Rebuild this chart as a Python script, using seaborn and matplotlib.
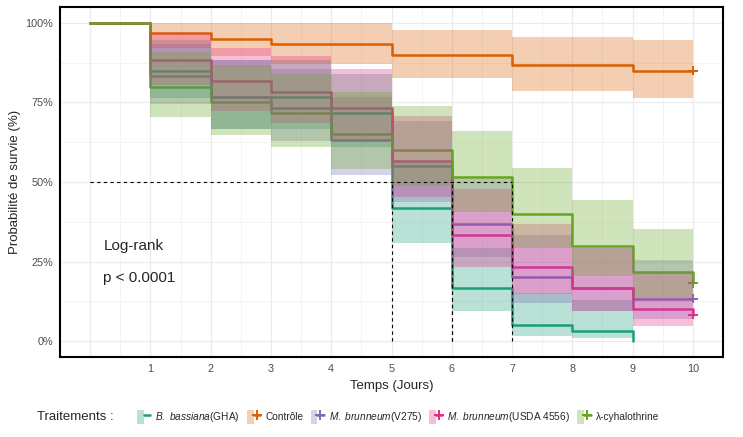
import numpy as np
import pandas as pd
import matplotlib
matplotlib.use("Agg")
import matplotlib.pyplot as plt
from matplotlib.patches import Patch
from matplotlib.lines import Line2D
from matplotlib.legend_handler import HandlerTuple
import seaborn as sns

# Kaplan-Meier estimates (fraction surviving per day)
days = [0, 1, 2, 3, 4, 5, 6, 7, 8, 9, 10]
groups = ["GHA", "Controle", "V275", "USDA4556", "lambda"]
labels = [r"$\it{B.\ bassiana}$(GHA)", "Contrôle", r"$\it{M.\ brunneum}$(V275)",
          r"$\it{M.\ brunneum}$(USDA 4556)", "λ-cyhalothrine"]
colors = ["#1B9E77", "#D95F02", "#7570B3", "#E7298A", "#66A61E"]

surv_gha = [1, .85, .767, .767, .717, .417, .167, .05, .033, 0]
lo_gha = [1, .764, .667, .667, .611, .309, .095, .017, .009, np.nan]
up_gha = [1, .945, .882, .882, .840, .562, .294, .151, .130, np.nan]

surv_ctrl = [1, .967, .95, .933, .933, .9, .9, .867, .867, .85, .85]
lo_ctrl = [1, .922, .896, .872, .872, .827, .827, .785, .785, .764, .764]
up_ctrl = [1, 1, 1, .999, .999, .979, .979, .957, .957, .945, .945]

surv_v275 = [1, .833, .767, .733, .633, .55, .367, .2, .167, .133, .133]
lo_v275 = [1, .744, .667, .630, .522, .438, .263, .121, .095, .070, .070]
up_v275 = [1, .933, .882, .854, .768, .692, .511, .332, .294, .254, .254]

surv_usda = [1, .883, .817, .783, .733, .567, .333, .233, .167, .1, .083]
lo_usda = [1, .806, .724, .686, .630, .454, .233, .148, .095, .047, .036]
up_usda = [1, .968, .921, .895, .854, .707, .477, .369, .294, .214, .193]

surv_lam = [1, .8, .75, .717, .65, .6, .517, .4, .3, .217, .183]
lo_lam = [1, .705, .648, .611, .540, .488, .405, .293, .204, .134, .108]
up_lam = [1, .908, .868, .840, .783, .738, .660, .545, .442, .351, .313]

censored = [False, True, True, True, True]  # '+' at last day

surv_all = [surv_gha, surv_ctrl, surv_v275, surv_usda, surv_lam]
lo_all = [lo_gha, lo_ctrl, lo_v275, lo_usda, lo_lam]
up_all = [up_gha, up_ctrl, up_v275, up_usda, up_lam]

rows = []
for g, s, lo, up in zip(groups, surv_all, lo_all, up_all):
    for t, v, l, u in zip(days, s, lo, up):
        rows.append((g, t, v, l, u))
df = pd.DataFrame(rows, columns=["group", "time", "surv", "lower", "upper"])

sns.set_style("whitegrid")
plt.rcParams["font.family"] = ["Liberation Sans", "DejaVu Sans"]
plt.rcParams["mathtext.fontset"] = "custom"
plt.rcParams["mathtext.it"] = "Liberation Sans:italic"
plt.rcParams["mathtext.rm"] = "Liberation Sans"

fig = plt.figure(figsize=(7.43, 4.37), dpi=100)
ax = fig.add_axes([60 / 743, 1 - 357 / 437, 663 / 743, 350 / 437])
pal = dict(zip(groups, colors))

sns.lineplot(data=df, x="time", y="surv", hue="group", hue_order=groups, palette=pal,
             drawstyle="steps-post", lw=1.8, errorbar=None, legend=False, ax=ax, zorder=2)

cens = pd.DataFrame([(g, s[-1], days[len(s) - 1]) for g, s, c in zip(groups, surv_all, censored) if c],
                    columns=["group", "surv", "time"])
sns.scatterplot(data=cens, x="time", y="surv", hue="group", palette=pal, marker="+",
                s=45, linewidth=1.4, legend=False, ax=ax, zorder=2)

for g in groups:
    d = df[df.group == g]
    ok = d.lower.notna().values
    t = d.time.values[ok]
    lo = d.lower.values[ok]
    up = d.upper.values[ok]
    if (~ok).any():
        t = np.append(t, d.time.values[~ok][0])
        lo = np.append(lo, lo[-1])
        up = np.append(up, up[-1])
    ax.fill_between(t, lo, up, step="post", color=pal[g], alpha=0.3, lw=0, zorder=3)

# median survival lines
medians = []
for s in surv_all:
    below = [t for t, v in zip(days, s) if v <= 0.5]
    if below:
        medians.append(below[0])
ax.hlines(0.5, 0, max(medians), colors="black", linestyles=(0, (3, 3)), lw=0.8, zorder=4)
ax.vlines(medians, 0, 0.5, colors="black", linestyles=(0, (3, 3)), lw=0.8, zorder=4)

ax.text(0.22, 0.30, "Log-rank", fontsize=11, va="center", ha="left")
ax.text(0.22, 0.197, "p < 0.0001", fontsize=11, va="center", ha="left")

ax.set_xlim(-0.5, 10.5)
ax.set_ylim(-0.05, 1.05)
ax.set_xticks(range(0, 11))
ax.set_xticklabels([""] + [str(i) for i in range(1, 11)])
ax.set_xticks(np.arange(0.5, 10.5, 1), minor=True)
ax.set_yticks([0, .25, .5, .75, 1])
ax.set_yticklabels(["0%", "25%", "50%", "75%", "100%"])
ax.set_yticks(np.arange(0.125, 1, 0.25), minor=True)
ax.tick_params(which="major", labelsize=7.8, labelcolor="#4D4D4D", color="#4D4D4D",
               length=2.5, width=0.6, pad=2.5)
ax.tick_params(which="minor", length=0)
ax.grid(which="major", color="#EBEBEB", lw=0.9)
ax.grid(which="minor", color="#F2F2F2", lw=0.6)
for sp in ax.spines.values():
    sp.set_color("black")
    sp.set_linewidth(1.5)
ax.set_xlabel("Temps (Jours)", fontsize=9.5, labelpad=4)
ax.set_ylabel("Probabilité de survie (%)", fontsize=9.5, labelpad=3)

handles = []
for g, c, cz in zip(groups, colors, censored):
    handles.append((Patch(facecolor=c, alpha=0.3, lw=0),
                    Line2D([], [], color=c, lw=1.8, marker="+" if cz else None, ms=7, mew=1.4)))
fig.text(37 / 743, 1 - 417 / 437, "Traitements :", fontsize=9.5, va="center")
fig.legend(handles, labels, loc="center left", bbox_to_anchor=(133 / 743, 1 - 417 / 437),
           ncol=5, frameon=False, handler_map={tuple: HandlerTuple(ndivide=None, pad=0)},
           handlelength=1.3, handleheight=1.7, handletextpad=0.5, columnspacing=0.7,
           borderaxespad=0, prop={"size": 7.3})

fig.savefig("out.png", dpi=100)
